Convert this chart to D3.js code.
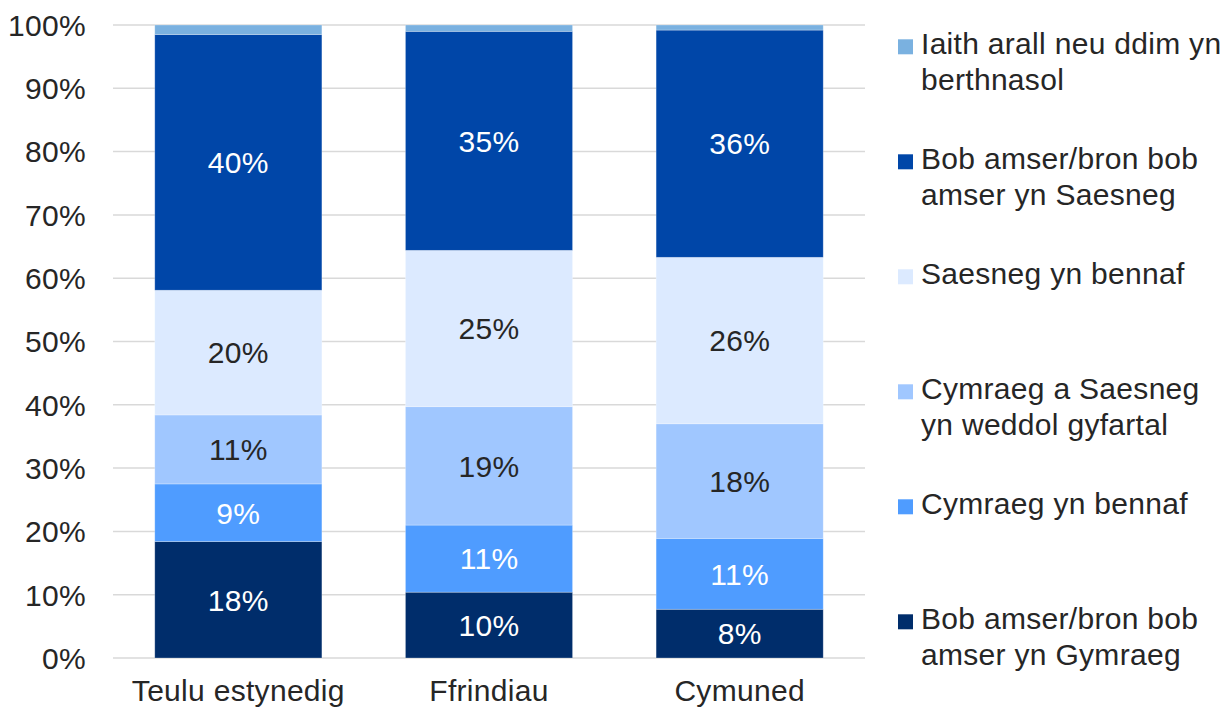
<!DOCTYPE html>
<html>
<head>
<meta charset="utf-8">
<script src="https://cdn.jsdelivr.net/npm/d3@7"></script>
<style>
  html, body { margin: 0; padding: 0; background: #fff; }
  svg text { font-family: "Liberation Sans", Arial, sans-serif; letter-spacing: 0.3px; }
</style>
</head>
<body>
<svg id="chart" width="1228" height="707"></svg>
<script>
// categories along the x axis
var categories = ["Teulu estynedig", "Ffrindiau", "Cymuned"];

// series, bottom of the stack first
var seriesKeys = ["gym", "gymBennaf", "cyfartal", "saesBennaf", "saes", "arall"];
var seriesNames = [
    "Bob amser/bron bob\namser yn Gymraeg",
    "Cymraeg yn bennaf",
    "Cymraeg a Saesneg\nyn weddol gyfartal",
    "Saesneg yn bennaf",
    "Bob amser/bron bob\namser yn Saesneg",
    "Iaith arall neu ddim yn\nberthnasol"
];
var seriesColors = ["#002d6b", "#4f9cff", "#a0c7ff", "#dceaff", "#0046a8", "#7ab1e0"];
var labelColors = ["#ffffff", "#ffffff", "#262626", "#262626", "#ffffff", null];

// values per series, one per category (percent)
var gym        = [18.4, 10.4, 7.7];
var gymBennaf  = [9.1, 10.6, 11.2];
var cyfartal   = [10.9, 18.7, 18.1];
var saesBennaf = [19.7, 24.7, 26.3];
var saes       = [40.4, 34.6, 35.9];
var arall      = [1.5, 1.0, 0.8];

var yTicks = [0, 10, 20, 30, 40, 50, 60, 70, 80, 90, 100];

// build rows for d3.stack
var seriesValues = [gym, gymBennaf, cyfartal, saesBennaf, saes, arall];
var rows = categories.map(function (c, i) {
    var row = { category: c };
    seriesKeys.forEach(function (k, s) { row[k] = seriesValues[s][i]; });
    return row;
});

var svg = d3.select("#chart");
var plotLeft = 113, plotRight = 865, plotTop = 25, plotBottom = 658;
var fontSize = 30;

var x = d3.scaleBand()
    .domain(categories)
    .range([plotLeft, plotRight])
    .paddingInner(1 / 3)
    .paddingOuter(1 / 6);

var y = d3.scaleLinear().domain([0, 100]).range([plotBottom, plotTop]);

// gridlines
svg.append("g")
    .selectAll("line")
    .data(yTicks)
    .join("line")
    .attr("x1", plotLeft)
    .attr("x2", plotRight)
    .attr("y1", function (d) { return y(d); })
    .attr("y2", function (d) { return y(d); })
    .attr("stroke", "#d9d9d9")
    .attr("stroke-width", 1.5);

// y tick labels
svg.append("g")
    .selectAll("text")
    .data(yTicks)
    .join("text")
    .attr("x", 86)
    .attr("y", function (d) { return y(d); })
    .attr("dy", "0.36em")
    .attr("text-anchor", "end")
    .attr("font-size", fontSize)
    .attr("fill", "#262626")
    .text(function (d) { return d + "%"; });

// stacked bars
var stacked = d3.stack().keys(seriesKeys)(rows);

var layers = svg.append("g")
    .selectAll("g")
    .data(stacked)
    .join("g")
    .attr("fill", function (d, i) { return seriesColors[i]; });

layers.selectAll("rect")
    .data(function (d) { return d; })
    .join("rect")
    .attr("x", function (d) { return x(d.data.category); })
    .attr("width", x.bandwidth())
    .attr("y", function (d) { return y(d[1]); })
    .attr("height", function (d) { return y(d[0]) - y(d[1]); })
    .attr("stroke", "#ffffff")
    .attr("stroke-opacity", 0.35)
    .attr("stroke-width", 0.75);

// value labels inside segments
stacked.forEach(function (layer, s) {
    if (!labelColors[s]) { return; }
    svg.append("g")
        .selectAll("text")
        .data(layer)
        .join("text")
        .attr("x", function (d) { return x(d.data.category) + x.bandwidth() / 2; })
        .attr("y", function (d) { return (y(d[0]) + y(d[1])) / 2; })
        .attr("dy", "0.36em")
        .attr("text-anchor", "middle")
        .attr("font-size", fontSize)
        .attr("fill", labelColors[s])
        .text(function (d) { return Math.round(d[1] - d[0]) + "%"; });
});

// category labels
svg.append("g")
    .selectAll("text")
    .data(categories)
    .join("text")
    .attr("x", function (d) { return x(d) + x.bandwidth() / 2; })
    .attr("y", plotBottom + 43)
    .attr("text-anchor", "middle")
    .attr("font-size", fontSize)
    .attr("fill", "#262626")
    .text(function (d) { return d; });

// legend, top entry is the top of the stack
var legendOrder = d3.range(seriesKeys.length).reverse();
var legend = svg.append("g")
    .selectAll("g")
    .data(legendOrder)
    .join("g")
    .attr("transform", function (d, i) { return "translate(898," + (54.3 + i * 115) + ")"; });

legend.append("rect")
    .attr("x", 0)
    .attr("y", -15)
    .attr("width", 15)
    .attr("height", 15)
    .attr("fill", function (d) { return seriesColors[d]; });

legend.append("text")
    .attr("font-size", fontSize)
    .attr("fill", "#262626")
    .selectAll("tspan")
    .data(function (d) { return seriesNames[d].split("\n"); })
    .join("tspan")
    .attr("x", 23)
    .attr("y", function (d, i) { return i * 36; })
    .text(function (d) { return d; });
</script>
</body>
</html>
